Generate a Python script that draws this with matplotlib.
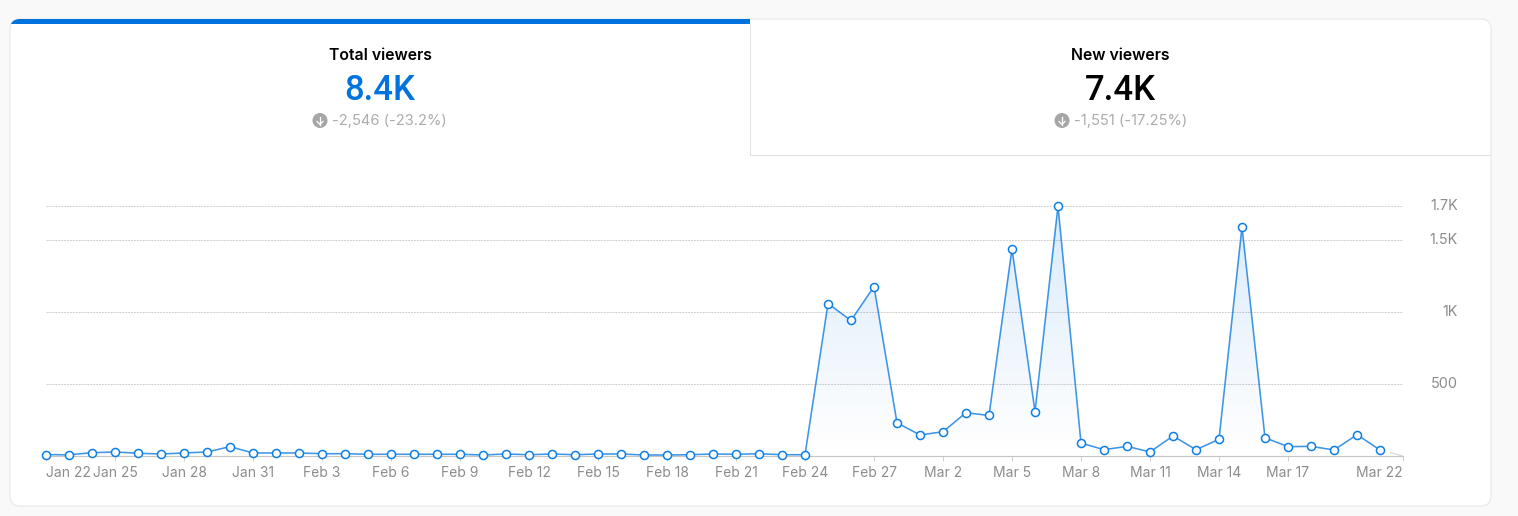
import numpy as np
import matplotlib
matplotlib.use('Agg')
from matplotlib import pyplot as plt
from matplotlib.patches import FancyBboxPatch, Rectangle, Circle
from matplotlib.transforms import ScaledTranslation

plt.rcParams['font.family'] = ['Inter', 'DejaVu Sans']

# daily viewers, Jan 22 .. Mar 21
viewers = [10, 8, 23, 28, 19, 14, 21, 28, 65, 21,
           21, 21, 16, 16, 12, 12, 12, 12, 12, 7,
           14, 9, 14, 9, 14, 14, 7, 7, 9, 14,
           12, 16, 9, 9, 1060, 942, 1178, 231, 146, 169,
           301, 282, 1440, 308, 1738, 90, 44, 67, 28, 139,
           44, 116, 1593, 127, 65, 67, 42, 148, 42]
last_day = 59
tick_days = [0, 3, 6, 9, 12, 15, 18, 21, 24, 27, 30, 33, 36, 39, 42, 45, 48, 51, 54, 59]
tick_labels = ['Jan 22', 'Jan 25', 'Jan 28', 'Jan 31', 'Feb 3', 'Feb 6', 'Feb 9', 'Feb 12',
               'Feb 15', 'Feb 18', 'Feb 21', 'Feb 24', 'Feb 27', 'Mar 2', 'Mar 5', 'Mar 8',
               'Mar 11', 'Mar 14', 'Mar 17', 'Mar 22']
y_ticks = [500, 1000, 1500, 1738]
y_labels = ['500', '1K', '1.5K', '1.7K']

BLUE = '#0073de'
W, H = 1518, 516
fig = plt.figure(figsize=(W / 100, H / 100), dpi=100, facecolor='#f9f9f9')

# page layer in pixel coords
bg = fig.add_axes([0, 0, 1, 1])
bg.set_xlim(0, W)
bg.set_ylim(H, 0)
bg.axis('off')

card = FancyBboxPatch((10, 19), 1481, 487, boxstyle='round,pad=0,rounding_size=10',
                      fc='white', ec='#e8e8e8', lw=0.8)
bg.add_patch(card)
bar = Rectangle((10, 19), 740, 5, fc=BLUE, ec='none')
bg.add_patch(bar)
bar.set_clip_path(card)
bg.plot([750, 750], [24, 155], color='#e4e4e4', lw=0.8)
bg.plot([750, 1491], [155, 155], color='#e4e4e4', lw=0.8)


def stat(cx, title, big, big_color, delta, icon_x):
    bg.text(cx, 55, title, ha='center', va='center', fontsize=11.4, color='black', fontweight='semibold')
    bg.text(cx, 90, big, ha='center', va='center', fontsize=25, color=big_color, fontweight='medium',
            family=['Roboto', 'DejaVu Sans'])
    bg.text(icon_x + 12, 121, delta, ha='left', va='center', fontsize=10.6, color='#acacac')
    bg.add_patch(Circle((icon_x, 120.5), 7.5, fc='#a6a6a6', ec='none'))
    bg.plot([icon_x, icon_x], [116.5, 124.5], color='white', lw=0.9)
    bg.plot([icon_x - 3, icon_x, icon_x + 3], [121.5, 124.5, 121.5], color='white', lw=0.9)


stat(380, 'Total viewers', '8.4K', BLUE, '-2,546 (-23.2%)', 320)
stat(1120, 'New viewers', '7.4K', 'black', '-1,551 (-17.25%)', 1062)

# chart
ax = fig.add_axes([46 / W, 1 - 456 / H, (1403 - 46) / W, (456 - 206) / H])
ax.patch.set_alpha(0)
days = np.arange(len(viewers))
top = max(y_ticks)

area = ax.fill_between(np.append(days, last_day), np.append(viewers, 0), 0, color='none')
grad = np.zeros((256, 1, 4))
grad[:, 0, :3] = matplotlib.colors.to_rgb(BLUE)
grad[:, 0, 3] = np.linspace(0.15, 0.0, 256)
im = ax.imshow(grad, extent=[0, last_day, 0, top], aspect='auto', origin='upper', zorder=1)
im.set_clip_path(area.get_paths()[0], transform=ax.transData)

ax.plot(days, viewers, color=BLUE, lw=1.15, alpha=0.75, zorder=3, clip_on=False)
ax.plot(days, viewers, ls='none', marker='o', ms=5.8, mfc='white', mec='#0f7fe4', mew=1.1,
        zorder=4, clip_on=False)
# faint tail towards the last day
ax.plot([last_day - 0.55, last_day], [viewers[-1] * 0.55, 0], color='#d8d8d8', lw=0.9, zorder=2)

ax.set_xlim(0, last_day)
ax.set_ylim(0, top)
for s in ['top', 'left', 'right']:
    ax.spines[s].set_visible(False)
ax.spines['bottom'].set_color('#c4c4c4')
ax.spines['bottom'].set_linewidth(0.8)
ax.spines['bottom'].set_linestyle((0, (2, 1)))
ax.yaxis.tick_right()
ax.set_yticks(y_ticks, y_labels)
ax.tick_params(axis='y', length=0, pad=39.5, labelsize=10.4, labelcolor='#8c8c8c')
for t in ax.get_yticklabels():
    t.set_ha('right')
    t.set_transform(t.get_transform() + ScaledTranslation(0, 1.5 / 100, fig.dpi_scale_trans))
ax.grid(axis='y', color='#d0d0d0', lw=0.7, ls=(0, (2, 1)), zorder=0)
ax.set_axisbelow(True)

ax.set_xticks(tick_days, tick_labels)
ax.tick_params(axis='x', length=3.5, width=0.7, color='#d0d0d0', pad=3.5, labelsize=10, labelcolor='#8c8c8c')
xl = ax.get_xticklabels()
xl[0].set_ha('left')
xl[-1].set_ha('right')

fig.savefig('out.png', dpi=100, facecolor=fig.get_facecolor())
